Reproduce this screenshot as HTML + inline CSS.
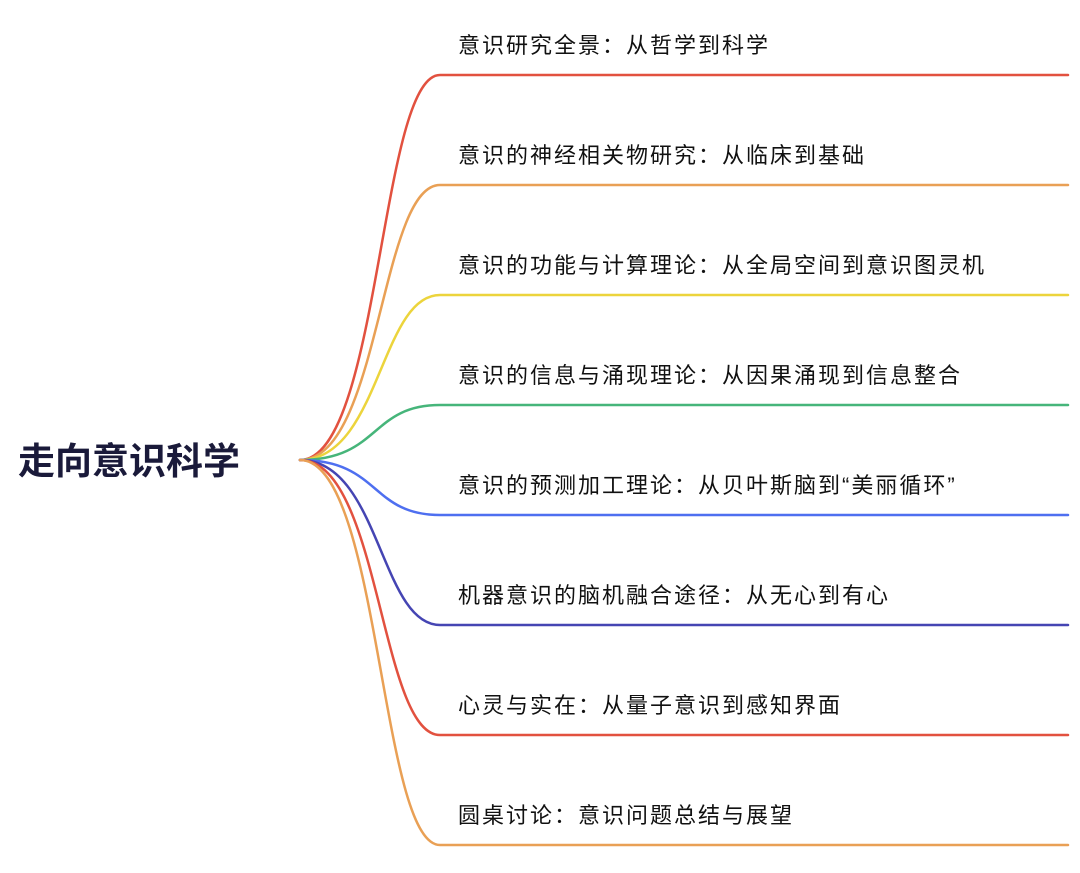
<!DOCTYPE html>
<html><head><meta charset="utf-8"><style>
body{margin:0;width:1080px;height:873px;background:#fff;overflow:hidden}
svg{position:absolute;left:0;top:0}
text{font-family:"Liberation Sans","Noto Sans CJK SC",sans-serif;fill:#111}
</style></head><body>
<svg width="1080" height="873" viewBox="0 0 1080 873">
<g fill="none" stroke-width="2.5" stroke-linecap="round">
<path d="M300 460 C380 460 380 75 440 75 L1068 75" stroke="#e2513f"/>
<path d="M300 460 C380 460 380 185 440 185 L1068 185" stroke="#e9a055"/>
<path d="M300 460 C380 460 380 295 440 295 L1068 295" stroke="#ecd43c"/>
<path d="M300 460 C380 460 370 405 440 405 L1068 405" stroke="#46b57a"/>
<path d="M300 460 C380 460 370 515 440 515 L1068 515" stroke="#4e6ff0"/>
<path d="M300 460 C380 460 380 625 440 625 L1068 625" stroke="#4545b3"/>
<path d="M300 460 C380 460 380 735 440 735 L1068 735" stroke="#e2513f"/>
<path d="M300 460 C380 460 380 845 440 845 L1068 845" stroke="#e9a055"/>
</g>
<text x="18" y="474" font-size="37" font-weight="bold" style="fill:#1a1a3a">走向意识科学</text>
<g font-size="22" letter-spacing="2">
<text x="458" y="53">意识研究全景：从哲学到科学</text>
<text x="458" y="163">意识的神经相关物研究：从临床到基础</text>
<text x="458" y="273">意识的功能与计算理论：从全局空间到意识图灵机</text>
<text x="458" y="383">意识的信息与涌现理论：从因果涌现到信息整合</text>
<text x="458" y="493">意识的预测加工理论：从贝叶斯脑到“美丽循环”</text>
<text x="458" y="603">机器意识的脑机融合途径：从无心到有心</text>
<text x="458" y="713">心灵与实在：从量子意识到感知界面</text>
<text x="458" y="823">圆桌讨论：意识问题总结与展望</text>
</g>
</svg>
</body></html>
